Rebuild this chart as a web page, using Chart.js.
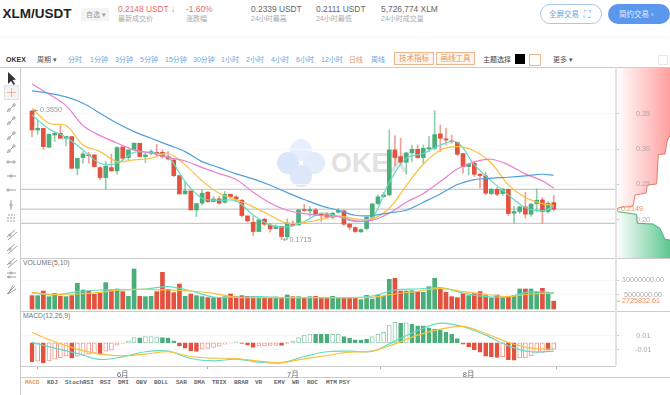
<!DOCTYPE html>
<html><head><meta charset="utf-8">
<script src="https://cdn.jsdelivr.net/npm/chart.js@4"></script>
<style>
html,body{margin:0;padding:0;background:#fff;overflow:hidden;width:670px;height:395px}
body{font-family:"Liberation Sans","Noto Sans CJK SC",sans-serif;position:relative}
.t{position:absolute;white-space:nowrap;line-height:1}
.l{position:absolute;background:#ccc}
canvas{position:absolute;display:block}
.box{position:absolute;border:1px solid #eab78f;background:#fdf5ee;color:#e0995f;font-size:7.5px;text-align:center;box-sizing:border-box;line-height:11px}
</style></head><body>
<div id="ui"></div>
<div style="position:absolute;left:290px;top:139px;width:22px;height:22px;border-radius:50%;background:#e7effc"></div>
<div style="position:absolute;left:277px;top:152px;width:22px;height:22px;border-radius:50%;background:#dae6fa"></div>
<div style="position:absolute;left:303px;top:152px;width:22px;height:22px;border-radius:50%;background:#e2ecfb"></div>
<div style="position:absolute;left:290px;top:165px;width:22px;height:22px;border-radius:50%;background:#dce7fa"></div>
<div class="t" style="left:331px;top:150px;font-size:27px;font-weight:bold;color:#e2e2e2">OKEX</div>
<canvas id="depth" style="left:616px;top:68px;width:54px;height:190px" width="54" height="190"></canvas>
<canvas id="main" style="left:21px;top:68px;width:649px;height:190px" width="649" height="190"></canvas>
<canvas id="vol" style="left:21px;top:259px;width:649px;height:52px" width="649" height="52"></canvas>
<canvas id="macd" style="left:21px;top:312px;width:649px;height:66px" width="649" height="66"></canvas>
<script>
const opens=[.3543,.3273,.3297,.3027,.3202,.3226,.3155,.3179,.2729,.2881,.2919,.2919,.2739,.2597,.2739,.2692,.3032,.2881,.2990,.3084,.2895,.2942,.2956,.2956,.2895,.2848,.2625,.2365,.2408,.2138,.2233,.2389,.2256,.2294,.2247,.2360,.2323,.2275,.2053,.1963,.1831,.2006,.1921,.1873,.1902,.1755,.1949,.1925,.2143,.2124,.2138,.2077,.2072,.2034,.2105,.2124,.1935,.1887,.1826,.1873,.2034,.2228,.2327,.2351,.2990,.2895,.2815,.2947,.2999,.2881,.3004,.3013,.3217,.3146,.3117,.3098,.2938,.2753,.2800,.2644,.2621,.2370,.2431,.2370,.2431,.2091,.2115,.2181,.2077,.2228,.2280,.2115,.2242];
const closes=[.3273,.3297,.3037,.3212,.3226,.3155,.3183,.2729,.2871,.2933,.2909,.2753,.2597,.2758,.2692,.3023,.2871,.2990,.3084,.2895,.2919,.2966,.2938,.2895,.2862,.2625,.2365,.2408,.2138,.2228,.2375,.2256,.2294,.2233,.2360,.2327,.2289,.2058,.1982,.1831,.1996,.1935,.1869,.1906,.1760,.1954,.1916,.2138,.2129,.2143,.2072,.2067,.2034,.2091,.2129,.1935,.1892,.1831,.1859,.2034,.2223,.2323,.2351,.2990,.2881,.2815,.2947,.2999,.2881,.3013,.3023,.3207,.3155,.3131,.3108,.2928,.2753,.2786,.2644,.2625,.2375,.2431,.2360,.2431,.2086,.2115,.2181,.2077,.2219,.2275,.2115,.2233,.2149];
const highs=[.3550,.3415,.3297,.3212,.3240,.3335,.3183,.3179,.2871,.2966,.2956,.2919,.2753,.2824,.2928,.3037,.3032,.2990,.3094,.3084,.2966,.2990,.3070,.2990,.2966,.2848,.2625,.2531,.2408,.2228,.2422,.2398,.2327,.2327,.2398,.2360,.2337,.2289,.2053,.2044,.1996,.2020,.1949,.1925,.1902,.2010,.1982,.2148,.2219,.2185,.2162,.2091,.2105,.2105,.2162,.2138,.1949,.1902,.1869,.2044,.2233,.2351,.2389,.3273,.3193,.3155,.2956,.3060,.3060,.3060,.3179,.3548,.3344,.3297,.3202,.3098,.2938,.2800,.2833,.2658,.2673,.2446,.2455,.2446,.2431,.2185,.2190,.2389,.2233,.2436,.2313,.2256,.2342];
const lows=[.3179,.3212,.2999,.3027,.3108,.3155,.3046,.2729,.2635,.2800,.2800,.2744,.2564,.2431,.2692,.2644,.2848,.2848,.2990,.2895,.2810,.2919,.2895,.2871,.2848,.2611,.2365,.2365,.2138,.2044,.2209,.2242,.2247,.2219,.2233,.2304,.2256,.2034,.1963,.1774,.1831,.1916,.1821,.1864,.1715,.1727,.1902,.1916,.2115,.2044,.2058,.1973,.2020,.2010,.2091,.1916,.1854,.1817,.1817,.1854,.2020,.2209,.2313,.2342,.2767,.2800,.2644,.2824,.2871,.2800,.2966,.2990,.2966,.3060,.3084,.2909,.2658,.2635,.2611,.2446,.2351,.2351,.2337,.2342,.2058,.1949,.2086,.2020,.2044,.2115,.1949,.2091,.2124];

const maIndex=[0,3,6,9,12,15,18,21,24,27,30,33,36,39,42,45,48,51,54,57,60,63,66,69,72,75,78,81,84,87,90,92];
const ma5=[.3486,.3288,.3169,.2990,.2800,.2800,.2956,.2952,.2890,.2540,.2304,.2275,.2266,.2067,.1925,.1897,.1973,.2091,.2044,.1973,.2029,.2531,.2871,.2938,.3060,.3098,.2777,.2550,.2351,.2171,.2124,.2185];
const ma10=[.3581,.3368,.3335,.3061,.2966,.2824,.2848,.2871,.2942,.2777,.2550,.2375,.2285,.2181,.2062,.1949,.1958,.2006,.2053,.2010,.2010,.2162,.2483,.2786,.2985,.3037,.2975,.2800,.2493,.2313,.2228,.2200];
const ma20=[.3926,.3779,.3619,.3335,.3193,.3089,.2990,.2942,.2881,.2833,.2739,.2654,.2569,.2389,.2237,.2133,.2086,.2058,.2044,.1982,.1992,.2091,.2247,.2370,.2540,.2720,.2819,.2857,.2777,.2649,.2550,.2446];
const ma30=[.3827,.3794,.3742,.3652,.3510,.3368,.3250,.3155,.3061,.2966,.2824,.2739,.2649,.2578,.2488,.2384,.2285,.2195,.2133,.2062,.2058,.2096,.2133,.2247,.2365,.2498,.2569,.2588,.2602,.2621,.2644,.2630];
const priceLevels=[.2430,.2149,.1947];
const priceTicks=[.35,.30,.25,.20];

const volumes=[4.65e6,4.65e6,6.27e6,4.30e6,5.46e6,4.41e6,4.30e6,4.65e6,8.94e6,6.62e6,6.27e6,5.11e6,5.46e6,9.18e6,6.62e6,6.97e6,6.04e6,4.41e6,13.94e6,4.41e6,4.30e6,4.41e6,6.04e6,12.78e6,6.85e6,5.69e6,8.71e6,4.41e6,5.23e6,4.65e6,4.30e6,3.95e6,3.95e6,3.95e6,4.30e6,5.23e6,4.30e6,4.65e6,4.41e6,4.41e6,4.41e6,3.83e6,4.07e6,4.18e6,3.72e6,4.88e6,4.30e6,4.30e6,3.95e6,4.30e6,4.41e6,3.95e6,3.72e6,4.41e6,4.07e6,3.72e6,3.83e6,3.72e6,3.25e6,4.76e6,3.48e6,4.88e6,4.41e6,10.34e6,10.69e6,6.27e6,6.27e6,6.39e6,6.04e6,5.81e6,7.78e6,10.69e6,7.20e6,5.81e6,4.30e6,3.95e6,5.34e6,4.65e6,5.46e6,6.04e6,4.65e6,3.83e6,4.88e6,3.95e6,4.30e6,4.65e6,6.97e6,6.97e6,6.97e6,5.81e6,7.20e6,5.81e6,2725832.61];
const subIndex=[0,4,8,12,16,20,24,28,32,36,40,44,48,52,56,60,64,68,72,76,80,84,88,92];
const volMa5=[5.69e6,4.88e6,6.04e6,6.62e6,6.62e6,6.97e6,7.78e6,6.27e6,4.18e6,4.07e6,4.30e6,3.95e6,3.95e6,3.95e6,3.95e6,4.53e6,6.62e6,6.97e6,7.43e6,5.57e6,4.30e6,4.30e6,6.04e6,5.69e6];
const volMa10=[5.69e6,5.11e6,5.23e6,5.81e6,6.74e6,6.85e6,6.62e6,6.27e6,5.46e6,4.07e6,3.95e6,3.95e6,3.95e6,3.95e6,3.95e6,4.07e6,5.23e6,6.16e6,7.20e6,6.04e6,5.11e6,4.30e6,5.23e6,5.46e6];
const volTicks=[10000000,5000000];

const macdHist=[-.0277,-.0268,-.0292,-.0263,-.0238,-.0219,-.0190,-.0224,-.0195,-.0180,-.0165,-.0151,-.0165,-.0122,-.0107,-.0034,-.0010,.0029,.0078,.0073,.0092,.0092,.0088,.0078,.0073,.0029,-.0044,-.0078,-.0117,-.0127,-.0092,-.0083,-.0068,-.0049,-.0019,-.0005,.0015,-.0010,-.0034,-.0068,-.0049,-.0044,-.0039,-.0039,-.0039,-.0005,.0024,.0078,.0112,.0127,.0127,.0127,.0122,.0122,.0122,.0092,.0068,.0044,.0039,.0049,.0092,.0122,.0151,.0258,.0297,.0287,.0292,.0268,.0248,.0248,.0219,.0199,.0185,.0151,.0122,.0063,-.0019,-.0058,-.0102,-.0136,-.0195,-.0205,-.0214,-.0205,-.0248,-.0253,-.0219,-.0219,-.0190,-.0141,-.0141,-.0107,-.0092];
const macdFilled=[1,0,1,0,0,0,0,1,0,0,0,0,1,0,0,0,0,0,0,1,0,0,0,1,1,1,1,1,1,1,0,0,0,0,0,0,0,1,1,1,0,0,0,0,1,1,0,0,0,0,1,1,1,0,0,1,1,1,1,1,0,0,0,0,0,1,0,1,1,1,1,1,1,1,1,1,1,1,1,1,1,1,1,0,1,1,0,0,0,0,0,1,0];
const dif=[.0005,-.0078,-.0156,-.0243,-.0205,-.0131,-.0122,-.0229,-.0263,-.0239,-.0282,-.0292,-.0200,-.0131,-.0122,-.0122,.0024,.0180,.0287,.0234,.0112,-.0044,-.0131,-.0122];
const dea=[.0151,.0015,-.0093,-.0166,-.0190,-.0166,-.0131,-.0200,-.0224,-.0229,-.0268,-.0287,-.0234,-.0185,-.0136,-.0122,-.0015,.0112,.0200,.0239,.0136,.0005,-.0078,-.0097];
const macdTicks=[.01,-.01];

const monthIndex=[16,46,77];
const monthLabels=['6月','7月','8月'];

const askPrices=[.2149,.2175,.2183,.2207,.2349,.2378,.2491,.2506,.2922,.2932,.3102,.3145,.3192,.4153];
const askDepth=[0,4e5,14e5,17.3e5,19e5,30e5,31.3e5,40.7e5,42.3e5,49e5,51e5,52e5,54e5,60e5];
const bidPrices=[.1455,.1710,.1720,.1876,.1938,.1947,.2075,.2112,.2149];
const bidDepth=[60e5,54e5,49e5,44e5,37.3e5,21.3e5,20.7e5,2.3e5,0];

const RED='#e2523f',GREEN='#4bae7a',XMIN=-1.94,XMAX=102.8;
Chart.defaults.animation=false;
Chart.defaults.font.family='"Liberation Sans","Noto Sans CJK SC",sans-serif';
const pts=(idx,v)=>idx.map((x,i)=>({x,y:v[i]}));
const line=(idx,v,color,w=1.2)=>({type:'line',data:pts(idx,v),borderColor:color,borderWidth:w,pointRadius:0,tension:.35,order:0});
const up=i=>closes[i]>=opens[i];
const xAxis=()=>({type:'linear',min:XMIN,max:XMAX,offset:false,display:false,grid:{display:false}});
const yAxis=(min,max,ticks,dec,pad)=>({position:'right',min,max,
  afterFit:s=>{s.width=55;s.paddingTop=0;s.paddingBottom=0},
  afterBuildTicks:s=>{s.ticks=ticks.map(value=>({value}))},
  border:{display:false},
  grid:{color:'#f7f7f7',tickColor:'#ccc',tickLength:4},
  ticks:{padding:pad,crossAlign:'center',autoSkip:false,color:'#aaa',font:{size:7.2},callback:v=>v.toFixed(dec)}});
const base=(scales,plugins=[])=>({responsive:false,animation:false,layout:{padding:0},
  plugins:{legend:{display:false},tooltip:{enabled:false}},scales});

const marks={id:'marks',afterDraw(c){
  const {ctx,scales:{x,y}}=c;
  const hi=highs.indexOf(Math.max(...highs)),lo=lows.indexOf(Math.min(...lows));
  ctx.save();ctx.font='7.2px "Liberation Sans"';ctx.textBaseline='middle';ctx.textAlign='left';
  [[hi,highs[hi]],[lo,lows[lo]]].forEach(([i,v])=>{
    const px=x.getPixelForValue(i)+2,py=y.getPixelForValue(v);
    ctx.strokeStyle='#888';ctx.lineWidth=.8;ctx.beginPath();ctx.moveTo(px+4,py);ctx.lineTo(px,py);ctx.lineTo(px+1.5,py-1.5);ctx.moveTo(px,py);ctx.lineTo(px+1.5,py+1.5);ctx.stroke();
    ctx.fillStyle='#999';ctx.fillText(v.toFixed(4),px+6,py);
  });
  const ly=y.getPixelForValue(closes[92]);
  ctx.strokeStyle='#ef8a5a';ctx.beginPath();ctx.moveTo(c.chartArea.right+5,ly);ctx.lineTo(c.chartArea.right+1,ly);ctx.stroke();
  ctx.fillStyle='#ef8a5a';ctx.fillText(closes[92].toFixed(4),c.chartArea.right+6,ly);
  ctx.restore();
}};
new Chart(document.getElementById('main'),{type:'bar',plugins:[marks],data:{datasets:[
  ...priceLevels.map(v=>({type:'line',data:[{x:XMIN,y:v},{x:XMAX,y:v}],borderColor:'#bdbdbd',borderWidth:1,pointRadius:0,order:5})),
  {label:'wick',data:opens.map((_,i)=>({x:i,y:[lows[i],highs[i]]})),barThickness:1,grouped:false,order:3,
    backgroundColor:opens.map((_,i)=>up(i)?'rgba(75,174,122,.6)':'rgba(226,82,63,.55)')},
  {label:'body',data:opens.map((o,i)=>({x:i,y:[o,closes[i]]})),barThickness:4,grouped:false,order:2,
    backgroundColor:opens.map((_,i)=>up(i)?GREEN:RED)},
  line(maIndex,ma30,'#4f9fdc'),line(maIndex,ma20,'#ea7fcf'),line(maIndex,ma10,'#f9c13d'),line(maIndex,ma5,'#62dbc4')
]},options:base({x:xAxis(),y:yAxis(.1455,.4153,priceTicks,2,17)})});

const volMark={id:'volMark',afterDraw(c){
  const {ctx,scales:{y}}=c,py=y.getPixelForValue(volumes[92]),r=c.chartArea.right;
  ctx.save();ctx.strokeStyle=ctx.fillStyle='#ef8a5a';ctx.lineWidth=.8;ctx.beginPath();ctx.moveTo(r+5,py);ctx.lineTo(r+1,py);ctx.stroke();
  ctx.font='7.2px "Liberation Sans"';ctx.textBaseline='middle';ctx.fillText(volumes[92].toFixed(2),r+7,py);ctx.restore();
}};
new Chart(document.getElementById('vol'),{type:'bar',plugins:[volMark],data:{datasets:[
  {data:volumes.map((v,i)=>({x:i,y:v})),barThickness:4,grouped:false,order:2,backgroundColor:volumes.map((_,i)=>up(i)?GREEN:RED)},
  line(subIndex,volMa10,'#f9c13d'),line(subIndex,volMa5,'#62dbc4')
]},options:base({x:xAxis(),y:yAxis(-0.7e6,17.42e6,volTicks,2,3)})});

const mx=xAxis();mx.display=true;
mx.afterFit=s=>{s.height=12;s.paddingLeft=0;s.paddingRight=0};
mx.afterBuildTicks=s=>{s.ticks=monthIndex.map(value=>({value}))};
mx.border={color:'#ccc'};
mx.grid={drawOnChartArea:false,tickLength:3,tickColor:'#aaa',display:true};
mx.ticks={autoSkip:false,maxRotation:0,padding:1,color:'#666',font:{size:7.5},callback:v=>monthLabels[monthIndex.indexOf(v)]};
new Chart(document.getElementById('macd'),{type:'bar',data:{datasets:[
  {data:macdHist.map((v,i)=>({x:i,y:v})),barThickness:4,grouped:false,order:2,borderWidth:1,borderSkipped:false,
    backgroundColor:macdHist.map((v,i)=>macdFilled[i]?(v>=0?GREEN:RED):'#fff'),
    borderColor:macdHist.map((v,i)=>macdFilled[i]?(v>=0?GREEN:RED):(v>=0?'rgba(75,174,122,.6)':'rgba(226,82,63,.6)'))},
  line(subIndex,dea,'#f9c13d'),line(subIndex,dif,'#62dbc4')
]},options:base({x:mx,y:yAxis(-.03387,.04496,macdTicks,2,16)})});

const grad=(c,rgb)=>{const a=c.chart.chartArea;if(!a)return 'transparent';
  const g=c.chart.ctx.createLinearGradient(a.left,0,a.right,0);
  g.addColorStop(0,'#fff');g.addColorStop(1,rgb);return g};
new Chart(document.getElementById('depth'),{type:'line',data:{datasets:[
  {data:askPrices.map((y,i)=>({y,x:askDepth[i]})),borderColor:'#e57d6c',borderWidth:1,pointRadius:0,tension:0,fill:'origin',backgroundColor:c=>grad(c,'#ff9f9f')},
  {data:bidPrices.map((y,i)=>({y,x:bidDepth[i]})),borderColor:'#49b27c',borderWidth:1,pointRadius:0,tension:0,fill:'origin',backgroundColor:c=>grad(c,'#5cc78f')}
]},options:{...base({x:{type:'linear',min:0,max:5400000,display:false},y:{type:'linear',min:.1455,max:.4153,display:false}}),indexAxis:'y'}});

/* page furniture */
const ui=document.getElementById('ui');
const T=(s,x,y,size,color,extra='')=>ui.insertAdjacentHTML('beforeend',`<div class="t" style="left:${x}px;top:${y}px;font-size:${size}px;color:${color};${extra}">${s}</div>`);
T('XLM/USDT',2.5,7,13.5,'#222','font-weight:bold');
ui.insertAdjacentHTML('beforeend','<div style="position:absolute;left:81px;top:8px;width:28px;height:13px;background:#f4f4f4"></div>');
T('自选 ▾',86,11,7,'#999');
[['0.2148 USDT ↓',118,'#e8696e','最新成交价'],['-1.60%',186,'#e8696e','涨跌幅'],['0.2339 USDT',251,'#666','24小时最高'],['0.2111 USDT',316,'#666','24小时最低'],['5,726,774 XLM',381,'#666','24小时成交量']].forEach(([a,x,c,b])=>{T(a,x,5,8.4,c);T(b,x,15,7,'#aaa')});
ui.insertAdjacentHTML('beforeend','<div style="position:absolute;left:540px;top:4px;width:62px;height:20px;box-sizing:border-box;border:1px solid #a9c8ee;border-radius:10px"></div><div style="position:absolute;left:608px;top:4px;width:62px;height:20px;border-radius:10px;background:#5b97ec"></div>');
T('全屏交易',549,11,7.5,'#6b9fe0');T('⛶',584,10,9,'#6b9fe0');
T('简约交易 ›',619,11,7.5,'#e4eefc');
ui.insertAdjacentHTML('beforeend','<div class="l" style="left:0;top:37px;width:670px;height:1px;background:#f6f6f6"></div>');
T('OKEX',6,55.5,7,'#333','font-weight:bold');
T('周期 ▾',37,55.5,7,'#555');
[['分时',68],['1分钟',90],['3分钟',115],['5分钟',140],['15分钟',165],['30分钟',193],['1小时',221],['2小时',246],['4小时',271],['6小时',296],['12小时',321]].forEach(([s,x])=>T(s,x,55.5,7,'#6da7d8'));
T('日线',349,55.5,7,'#e59a5f');T('周线',371,55.5,7,'#6da7d8');
ui.insertAdjacentHTML('beforeend','<div class="box" style="left:394px;top:52px;width:40px;height:13px">技术指标</div><div class="box" style="left:436px;top:52px;width:39px;height:13px">画线工具</div><div style="position:absolute;left:515px;top:54px;width:10px;height:10px;background:#000"></div><div style="position:absolute;left:529px;top:54px;width:10px;height:10px;border:1px solid #eab78f;background:#fff"></div><div style="position:absolute;left:658px;top:55px;width:8px;height:8px;border:1px solid #e8e8e8"></div>');
T('主题选择',483,55.5,7,'#444');T('更多 ▾',553,55.5,7,'#555');
T('VOLUME(5,10)',23,260,6.8,'#777');T('MACD(12,26,9)',23,313,6.8,'#777');
[['MACD',25],['KDJ',47],['StochRSI',65],['RSI',100],['DMI',118],['OBV',136],['BOLL',154],['SAR',176],['DMA',194],['TRIX',212],['BRAR',234],['VR',255],['EMV',274],['WR',292],['ROC',307],['MTM',326],['PSY',339]].forEach(([s,x],i)=>T(s,x,380,6,i?'#666':'#e59a5f','font-family:\'Liberation Mono\';font-weight:bold'));
[[0,67,670,1],[21,258,649,1],[21,311,649,1],[21,377,649,1]].forEach(([x,y,w,h])=>ui.insertAdjacentHTML('beforeend',`<div class="l" style="left:${x}px;top:${y}px;width:${w}px;height:${h}px"></div>`));
ui.insertAdjacentHTML('beforeend','<div class="l" style="left:20px;top:67px;width:1px;height:328px"></div><div class="l" style="left:615px;top:67px;width:2px;height:298px;background:#e2e2e2;z-index:3"></div>');
/* left drawing toolbar */
let svg='<svg style="position:absolute;left:0;top:64px" width="20" height="240" fill="none" stroke="#888" stroke-width=".8">';
svg+='<path d="M8 8 L8 20 L11 17 L13.5 21 L15 20 L12.5 16 L16 15.5 Z" fill="#333" stroke="none"/>';
svg+='<rect x="4.5" y="21.5" width="14" height="14" fill="#f4f4f4" stroke="#ddd"/><path d="M11.5 24 V33 M7 28.5 H16" stroke="#f0a27a"/>';
[43,56,71,84].forEach(y=>{svg+=`<path d="M7 ${y+5} L15 ${y-3}"/><circle cx="9" cy="${y+3}" r="1.2" fill="#fff"/><circle cx="14" cy="${y-2}" r="1.2" fill="#fff"/>`});
svg+='<path d="M7 98 H15"/><circle cx="8" cy="98" r="1.2" fill="#fff"/><circle cx="14" cy="98" r="1.2" fill="#fff"/>';
svg+='<path d="M7 112 H16"/><circle cx="11" cy="112" r="1.2" fill="#fff"/>';
svg+='<path d="M7 126 H16"/><circle cx="8" cy="126" r="1.2" fill="#fff"/>';
svg+='<path d="M11 136 V146"/><circle cx="11" cy="141" r="1.2" fill="#fff"/>';
svg+='<path d="M7 154 H16 M7 157 H16 M8 151 H15" stroke-dasharray="2 1"/>';
[170,184,198].forEach(y=>{svg+=`<path d="M7 ${y+3} L15 ${y-4} M8 ${y+6} L17 ${y-2}"/><circle cx="10" cy="${y+1}" r="1.1" fill="#fff"/>`});
svg+='<path d="M7 209 H16 M7 213 H16"/><circle cx="11" cy="209" r="1.1" fill="#fff"/><circle cx="9" cy="213" r="1.1" fill="#fff"/>';
svg+='<path d="M7 230 L15 222 M8 230 L16 225 M8 230 L13 221"/>';
svg+='</svg>';
ui.insertAdjacentHTML('beforeend',svg);
</script>
</body></html>
